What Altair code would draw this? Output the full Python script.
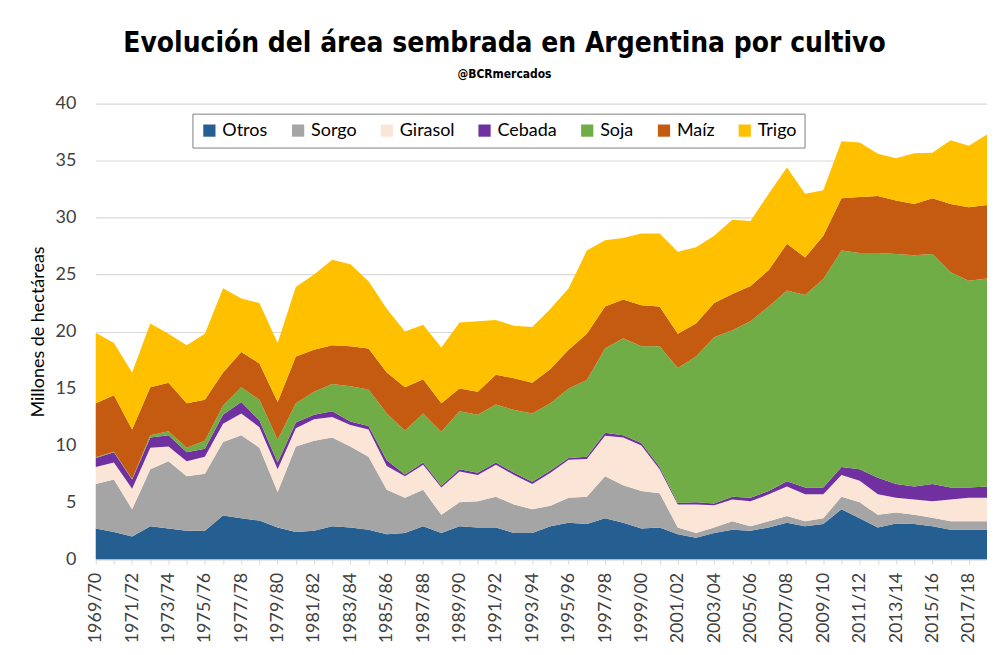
import altair as alt
import pandas as pd

# Campañas 1969/70 ... 2018/19
start_years = list(range(1969, 2019))
temporadas = [f"{y}/{str(y + 1)[-2:]}" for y in start_years]

cultivos = ["Otros", "Sorgo", "Girasol", "Cebada", "Soja", "Maíz", "Trigo"]
colores = ["#255E91", "#A5A5A5", "#FBE5D6", "#7030A0", "#70AD47", "#C55A11", "#FFC000"]

# Millones de hectáreas (estimado del gráfico)
otros = [2.7, 2.4, 2.0, 2.9, 2.7, 2.5, 2.5, 3.85, 3.6, 3.4,
         2.8, 2.4, 2.5, 2.9, 2.8, 2.6, 2.2, 2.3, 2.9, 2.3,
         2.9, 2.8, 2.8, 2.3, 2.3, 2.9, 3.2, 3.1, 3.6, 3.2,
         2.7, 2.8, 2.2, 1.9, 2.3, 2.6, 2.5, 2.8, 3.2, 2.9,
         3.1, 4.4, 3.6, 2.8, 3.15, 3.1, 2.9, 2.6, 2.6, 2.6]
sorgo = [3.9, 4.6, 2.4, 5.0, 5.9, 4.8, 5.0, 6.45, 7.3, 6.4,
         3.1, 7.5, 7.9, 7.8, 7.1, 6.4, 3.9, 3.1, 3.2, 1.6,
         2.1, 2.3, 2.7, 2.5, 2.1, 1.8, 2.2, 2.4, 3.7, 3.3,
         3.3, 3.0, 0.6, 0.4, 0.5, 0.75, 0.4, 0.55, 0.6, 0.45,
         0.5, 1.1, 1.4, 1.1, 0.95, 0.8, 0.75, 0.75, 0.75, 0.75]
girasol = [1.5, 1.5, 1.8, 1.9, 1.3, 1.3, 1.5, 1.6, 1.9, 1.8,
           2.0, 1.6, 1.9, 1.8, 1.9, 2.4, 2.1, 1.9, 2.2, 2.4,
           2.7, 2.3, 2.8, 2.6, 2.2, 2.9, 3.35, 3.3, 3.55, 4.2,
           4.0, 2.1, 2.0, 2.5, 1.95, 1.9, 2.2, 2.35, 2.6, 2.35,
           2.1, 1.9, 1.9, 1.8, 1.3, 1.35, 1.45, 1.9, 2.05, 2.05]
cebada = [0.8, 0.9, 0.8, 0.9, 1.0, 0.8, 0.7, 0.8, 1.0, 0.6,
          0.6, 0.5, 0.4, 0.5, 0.3, 0.3, 0.5, 0.15, 0.2, 0.15,
          0.2, 0.2, 0.2, 0.2, 0.2, 0.2, 0.15, 0.2, 0.25, 0.2,
          0.2, 0.2, 0.15, 0.2, 0.15, 0.25, 0.3, 0.3, 0.45, 0.6,
          0.6, 0.7, 1.0, 1.45, 1.2, 1.15, 1.5, 1.05, 0.9, 1.0]
soja = [0.05, 0.05, 0.05, 0.2, 0.35, 0.4, 0.7, 0.8, 1.3, 1.8,
        2.0, 1.7, 2.0, 2.4, 3.1, 3.2, 4.1, 3.85, 4.3, 4.75,
        5.1, 5.1, 5.1, 5.5, 6.0, 5.9, 6.1, 6.75, 7.4, 8.5,
        8.5, 10.6, 11.85, 12.8, 14.6, 14.6, 15.5, 16.2, 16.75, 16.9,
        18.3, 19.0, 19.0, 19.75, 20.2, 20.3, 20.2, 18.9, 18.15, 18.25]
maiz = [4.75, 4.95, 4.35, 4.2, 4.25, 3.9, 3.6, 2.9, 3.1, 3.2,
        3.3, 4.1, 3.7, 3.4, 3.5, 3.6, 3.6, 3.8, 3.0, 2.5,
        2.0, 2.0, 2.6, 2.8, 2.7, 3.0, 3.4, 4.05, 3.7, 3.4,
        3.6, 3.5, 3.0, 2.9, 3.0, 3.2, 3.1, 3.2, 4.1, 3.3,
        3.8, 4.6, 4.9, 5.0, 4.7, 4.5, 4.9, 6.0, 6.45, 6.45]
trigo = [6.2, 4.6, 5.0, 5.6, 4.3, 5.1, 5.8, 7.4, 4.7, 5.3,
         5.2, 6.1, 6.6, 7.5, 7.2, 5.9, 5.6, 4.9, 4.8, 4.9,
         5.8, 6.2, 4.8, 4.6, 4.9, 5.3, 5.4, 7.3, 5.8, 5.4,
         6.3, 6.4, 7.2, 6.7, 5.9, 6.5, 5.7, 6.7, 6.7, 5.6,
         4.0, 5.0, 4.8, 3.7, 3.7, 4.45, 4.0, 5.6, 5.4, 6.2]

series = [otros, sorgo, girasol, cebada, soja, maiz, trigo]

rows = []
for k, (nombre, vals) in enumerate(zip(cultivos, series)):
    for t, v in zip(temporadas, vals):
        rows.append({"temporada": t, "cultivo": nombre, "valor": v, "orden": k})
df = pd.DataFrame(rows)

FONT = "Lato"
TITLE_FONT = "'DejaVu Sans Condensed', 'DejaVu Sans', sans-serif"

chart = alt.Chart(df).mark_area().encode(
    x=alt.X(
        "temporada:O",
        sort=temporadas,
        scale=alt.Scale(type="point", padding=0),
        axis=alt.Axis(
            title=None,
            labelAngle=-90,
            labelExpr="toNumber(substring(datum.value, 0, 4)) % 2 == 1 ? datum.value : ''",
            labelFontSize=18,
            labelFont=FONT,
            labelColor="#404040",
            labelPadding=8,
            labelOverlap=False,
            tickColor="#D9D9D9",
            tickSize=5,
            domainColor="#D9D9D9",
            grid=False,
        ),
    ),
    y=alt.Y(
        "valor:Q",
        stack="zero",
        scale=alt.Scale(domain=[0, 40], nice=False),
        axis=alt.Axis(
            title="Millones de hectáreas",
            values=[0, 5, 10, 15, 20, 25, 30, 35, 40],
            labelFontSize=18,
            labelFont=FONT,
            labelColor="#404040",
            labelPadding=20,
            titleFont=FONT,
            titleFontSize=18,
            titleFontWeight="normal",
            titleColor="#000000",
            titlePadding=8,
            domain=False,
            ticks=False,
            gridColor="#D9D9D9",
            gridWidth=1.2,
        ),
    ),
    color=alt.Color(
        "cultivo:N",
        scale=alt.Scale(domain=cultivos, range=colores),
        legend=alt.Legend(
            title=None,
            orient="none",
            legendX=97,
            legendY=10,
            direction="horizontal",
            symbolType="square",
            symbolSize=150,
            symbolStrokeWidth=0,
            labelFont=FONT,
            labelFontSize=18,
            labelColor="#000000",
            columnPadding=21,
            padding=8,
            strokeColor="#7F7F7F",
            fillColor="#FFFFFF",
        ),
    ),
    order=alt.Order("orden:Q", sort="ascending"),
).properties(
    width=894,
    height=457,
    padding={"left": 88, "top": 95, "right": 0, "bottom": 87},
    autosize=alt.AutoSizeParams(type="none"),
    title=alt.TitleParams(
        text="Evolución del área sembrada en Argentina por cultivo",
        subtitle="@BCRmercados",
        font=TITLE_FONT,
        fontSize=28,
        fontWeight="bold",
        color="#000000",
        subtitleFont=TITLE_FONT,
        subtitleFontSize=12,
        subtitleFontWeight="bold",
        subtitleColor="#000000",
        subtitlePadding=11,
        anchor="middle",
        frame="group",
        dx=-37,
        offset=15,
    ),
).configure_view(stroke=None)

chart.save("out.html", embed_options={"renderer": "svg", "actions": False})
